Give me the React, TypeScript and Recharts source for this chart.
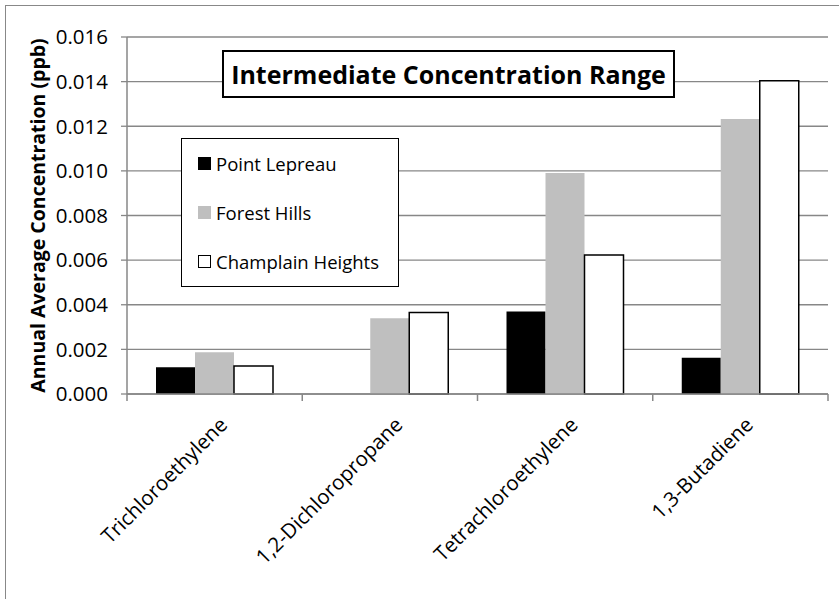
import React from "react";
import { BarChart, Bar, XAxis, YAxis, CartesianGrid, Legend, Label } from "recharts";

// pollutant names on the x axis
const compounds = ["Trichloroethylene", "1,2-Dichloropropane", "Tetrachloroethylene", "1,3-Butadiene"];

// annual average concentration (ppb) per station
const stations = ["Point Lepreau", "Forest Hills", "Champlain Heights"];
const pointLepreau = [0.0012, 0, 0.0037, 0.00163];
const forestHills = [0.00187, 0.0034, 0.0099, 0.01233];
const champlainHeights = [0.00125, 0.00365, 0.00623, 0.01404];

const yTicks = [0, 0.002, 0.004, 0.006, 0.008, 0.01, 0.012, 0.014, 0.016];

const data = compounds.map((name, i) => ({
  name,
  pointLepreau: pointLepreau[i],
  forestHills: forestHills[i],
  champlainHeights: champlainHeights[i],
}));

const FONT = "'Open Sans', sans-serif";
const GRID = "#878787";
const W = 839;
const H = 599;
const LEFT = 127;
const RIGHT = 11;
const band = (W - LEFT - RIGHT) / compounds.length;

const XTick = (props: any) => {
  const { x, y, payload, index } = props;
  const half = band / 2;
  const ax = x + 14;
  const ay = y + 32;
  return (
    <g>
      <line x1={x - half} x2={x - half} y1={y} y2={y + 7} stroke={GRID} strokeWidth={1.5} />
      {index === compounds.length - 1 && (
        <line x1={x + half} x2={x + half} y1={y} y2={y + 7} stroke={GRID} strokeWidth={1.5} />
      )}
      <text
        x={ax}
        y={ay}
        transform={`rotate(-45, ${ax}, ${ay})`}
        textAnchor="end"
        fontFamily={FONT}
        fontSize={20.5}
        fill="#000"
      >
        {payload.value}
      </text>
    </g>
  );
};

const LegendBox = (props: any) => {
  const payload: any[] = props.payload || [];
  // keep the series order, not the alphabetical one
  const items = stations
    .map((s) => payload.find((p) => p.value === s))
    .filter(Boolean);
  return (
    <div
      style={{
        width: 218,
        height: 149,
        border: "1.5px solid #000",
        background: "#fff",
        fontFamily: FONT,
        fontSize: 18.5,
        boxSizing: "border-box",
      }}
    >
      {items.map((p: any) => (
        <div key={p.value} style={{ display: "flex", alignItems: "center", height: 49, marginLeft: 16 }}>
          <span
            style={{
              display: "inline-block",
              width: 13,
              height: 13,
              background: p.color,
              border: p.value === "Champlain Heights" ? "1px solid #000" : "none",
              boxSizing: "border-box",
              marginRight: 5,
            }}
          />
          <span>{p.value}</span>
        </div>
      ))}
    </div>
  );
};

export default function App() {
  return (
    <div style={{ position: "absolute", left: 0, top: 0, width: W, height: H, overflow: "hidden", background: "#fff" }}>
      <div
        style={{
          position: "absolute",
          left: 5,
          top: 5,
          width: W + 20,
          height: H + 20,
          border: "1.5px solid #888",
        }}
      />
      <div style={{ position: "absolute", left: 0, top: 0 }}>
        <BarChart
          width={W}
          height={H}
          data={data}
          margin={{ top: 37, right: RIGHT, left: 0, bottom: 0 }}
          barSize={39}
          barGap={0}
        >
          <CartesianGrid vertical={false} stroke={GRID} strokeWidth={1.3} />
          <XAxis
            dataKey="name"
            height={205}
            interval={0}
            tickSize={0}
            tickMargin={0}
            tickLine={false}
            axisLine={{ stroke: GRID, strokeWidth: 1.5 }}
            tick={<XTick />}
          />
          <YAxis
            width={LEFT}
            domain={[0, 0.016]}
            ticks={yTicks}
            interval={0}
            tickFormatter={(v: number) => v.toFixed(3)}
            tick={{ fill: "#000", fontFamily: FONT, fontSize: 20.5 }}
            tickSize={6}
            tickMargin={13}
            tickLine={{ stroke: GRID, strokeWidth: 1.3 }}
            axisLine={{ stroke: GRID, strokeWidth: 1.5 }}
          >
            <Label
              content={(p: any) => {
                const vb = p.viewBox || { x: 0, y: 37, height: 357 };
                const cx = vb.x + 45;
                const cy = vb.y + vb.height / 2;
                return (
                  <text
                    x={cx}
                    y={cy}
                    transform={`rotate(-90, ${cx}, ${cy})`}
                    textAnchor="middle"
                    fontFamily={FONT}
                    fontWeight="bold"
                    fontSize={19.5}
                    fill="#000"
                  >
                    Annual Average Concentration (ppb)
                  </text>
                );
              }}
            />
          </YAxis>
          <Legend
            layout="vertical"
            align="center"
            verticalAlign="middle"
            content={<LegendBox />}
            wrapperStyle={{ position: "absolute", left: 181, top: 138, width: 218, height: 149, margin: 0 }}
          />
          <Bar dataKey="pointLepreau" name="Point Lepreau" fill="#000000" isAnimationActive={false} />
          <Bar dataKey="forestHills" name="Forest Hills" fill="#bfbfbf" isAnimationActive={false} />
          <Bar
            dataKey="champlainHeights"
            name="Champlain Heights"
            fill="#ffffff"
            stroke="#000"
            strokeWidth={1.5}
            isAnimationActive={false}
          />
        </BarChart>
      </div>
      <div
        style={{
          position: "absolute",
          left: 222,
          top: 50,
          width: 453,
          height: 48,
          border: "2px solid #000",
          boxSizing: "border-box",
          background: "#fff",
          display: "flex",
          alignItems: "center",
          justifyContent: "center",
          fontFamily: FONT,
          fontWeight: "bold",
          fontSize: 25,
          whiteSpace: "nowrap",
        }}
      >
        Intermediate Concentration Range
      </div>
    </div>
  );
}
